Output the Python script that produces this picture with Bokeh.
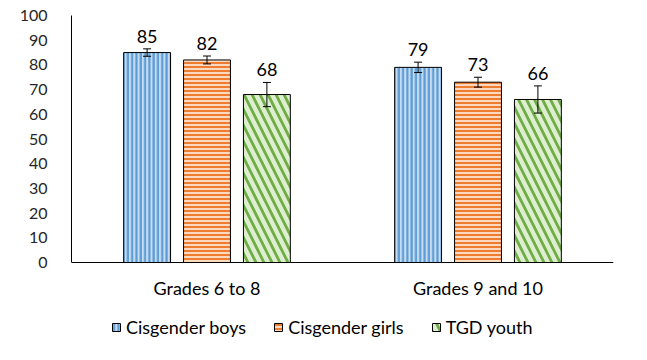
from bokeh.plotting import figure
from bokeh.models import (ColumnDataSource, FactorRange, Whisker, TeeHead, Legend,
                          LegendItem, Range1d, FixedTicker, LabelSet)
from bokeh.core.properties import value
from bokeh.transform import dodge
from bokeh.embed import file_html
from bokeh.resources import INLINE

categories = ["Grades 6 to 8", "Grades 9 and 10"]
series = ["Cisgender boys", "Cisgender girls", "TGD youth"]
boys = [85, 79]
girls = [82, 73]
tgd = [68, 66]
boys_err = [1.5, 2.1]
girls_err = [1.6, 2.0]
tgd_err = [4.9, 5.5]
y_ticks = [0, 10, 20, 30, 40, 50, 60, 70, 80, 90, 100]

FONT = "Lato"

# frame spans the plot plus the legend strip below it; the axes are bounded to 0..100
p = figure(x_range=FactorRange(factors=categories), y_range=Range1d(-33.6, 100),
           width=640, height=352, output_backend="svg", toolbar_location=None,
           min_border_left=71, min_border_right=27, min_border_top=15,
           min_border_bottom=7)
p.outline_line_color = None
p.xgrid.grid_line_color = None
p.ygrid.grid_line_color = None

p.yaxis.ticker = FixedTicker(ticks=y_ticks)
p.yaxis.bounds = (0, 100)
p.yaxis.major_tick_line_color = None
p.yaxis.minor_tick_line_color = None
p.yaxis.axis_line_color = "black"
p.yaxis.major_label_standoff = 18
p.yaxis.major_label_text_font = FONT
p.yaxis.major_label_text_font_size = "16px"
p.yaxis.major_label_text_color = "#262626"

p.xaxis.fixed_location = 0
p.xaxis.major_tick_line_color = None
p.xaxis.minor_tick_line_color = None
p.xaxis.axis_line_color = "black"
p.xaxis.major_label_standoff = 8
p.xaxis.major_label_text_font = FONT
p.xaxis.major_label_text_font_size = "18px"
p.xaxis.major_label_text_color = "#000000"

styles = [
    dict(vals=boys, err=boys_err, off=-0.221, fill="#C5DCF2", hatch="#5B9BD5",
         pattern="vertical_line", scale=4.3, weight=2.2),
    dict(vals=girls, err=girls_err, off=0.0, fill="#FCD9BF", hatch="#ED7D31",
         pattern="horizontal_line", scale=4.0, weight=2.0),
    dict(vals=tgd, err=tgd_err, off=0.221, fill="#DDEFD0", hatch="#70AD47",
         pattern="left_diagonal_line", scale=16, weight=2.8),
]

items = []
for name, st in zip(series, styles):
    src = ColumnDataSource(dict(
        x=categories, top=st["vals"],
        upper=[v + e for v, e in zip(st["vals"], st["err"])],
        lower=[v - e for v, e in zip(st["vals"], st["err"])],
        label=[str(v) for v in st["vals"]],
    ))
    xd = dodge("x", st["off"], range=p.x_range)
    r = p.vbar(x=xd, top="top", bottom=0, width=0.173, source=src,
               fill_color=st["fill"], line_color="black", line_width=1,
               hatch_pattern=st["pattern"], hatch_color=st["hatch"],
               hatch_scale=st["scale"], hatch_weight=st["weight"])
    w = Whisker(base=xd, upper="upper", lower="lower", source=src, level="overlay",
                line_color="black", line_width=1,
                upper_head=TeeHead(size=8, line_color="black", line_width=1),
                lower_head=TeeHead(size=8, line_color="black", line_width=1))
    p.add_layout(w)
    lbl = LabelSet(x=xd, y="upper", text="label", source=src,
                   text_align="center", text_baseline="bottom", y_offset=6,
                   text_font=value(FONT), text_font_size=value("18px"),
                   text_color="#000000")
    p.add_layout(lbl)
    items.append(LegendItem(label=name, renderers=[r]))

legend = Legend(items=items, orientation="horizontal", location=(40, 7),
                glyph_width=10, glyph_height=10, label_standoff=5, spacing=27,
                padding=0, margin=0, border_line_color=None,
                background_fill_color=None,
                label_text_font=FONT, label_text_font_size="18px",
                label_text_color="#000000")
p.add_layout(legend, "center")

open("out.html", "w").write(file_html(p, INLINE))
